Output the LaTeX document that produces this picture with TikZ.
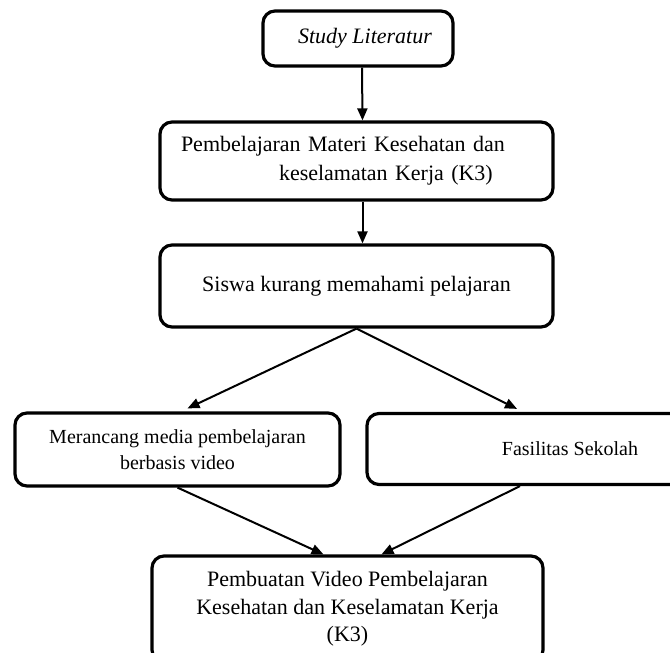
\documentclass[tikz,border=0pt]{standalone}
\usepackage{fontspec}
\setmainfont{Liberation Serif}
\usetikzlibrary{arrows.meta}
\begin{document}
\begin{tikzpicture}[x=0.5pt,y=-0.5pt,
  box/.style={draw, line width=1.6pt, rounded corners=6pt, inner sep=0pt, align=center, font=\fontsize{11}{14}\selectfont},
  smallbox/.style={box, font=\fontsize{10}{13}\selectfont},
  arr/.style={line width=1pt, -{Triangle[length=6pt,width=5pt]}}]
\useasboundingbox (0,0) rectangle (670,653);
\clip (0,0) rectangle (670,653);

\node[box, minimum width=95pt, minimum height=27.5pt, font=\fontsize{11}{14}\selectfont\itshape] (b1) at (358,38.5) {\hspace*{7pt}Study Literatur};
\node[box, minimum width=196.5pt, minimum height=39pt, text width=175.5pt, align=left, font=\fontsize{11}{14.5}\selectfont] (b2) at (356.5,161) {Pembelajaran Materi Kesehatan dan\\\hspace*{49pt}keselamatan Kerja (K3)};
\node[box, minimum width=196.5pt, minimum height=41pt] (b3) at (356.5,286) {Siswa kurang memahami pelajaran};
\node[smallbox, minimum width=162.5pt, minimum height=36.5pt] (b4) at (177.5,449.5) {Merancang media pembelajaran\\berbasis video};
\node[smallbox, minimum width=203pt, minimum height=35.5pt] (b5) at (570,449) {Fasilitas Sekolah};
\node[box, minimum width=195.5pt, minimum height=53pt, font=\fontsize{11}{13.7}\selectfont] (b6) at (347.5,609) {Pembuatan Video Pembelajaran\\Kesehatan dan Keselamatan Kerja\\(K3)};

\draw[arr] ([xshift=2pt]b1.south) -- ([xshift=3pt]b2.north);
\draw[arr] ([xshift=3pt]b2.south) -- ([xshift=3pt]b3.north);
\draw[arr] (b3.south) -- ([xshift=5pt,yshift=1.5pt]b4.north);
\draw[arr] (b3.south) -- ([xshift=-26.5pt,yshift=1.5pt]b5.north);
\draw[arr] (b4.south) -- ([xshift=-12pt]b6.north);
\draw[arr] ([xshift=-25pt]b5.south) -- ([xshift=17pt]b6.north);
\end{tikzpicture}
\end{document}
